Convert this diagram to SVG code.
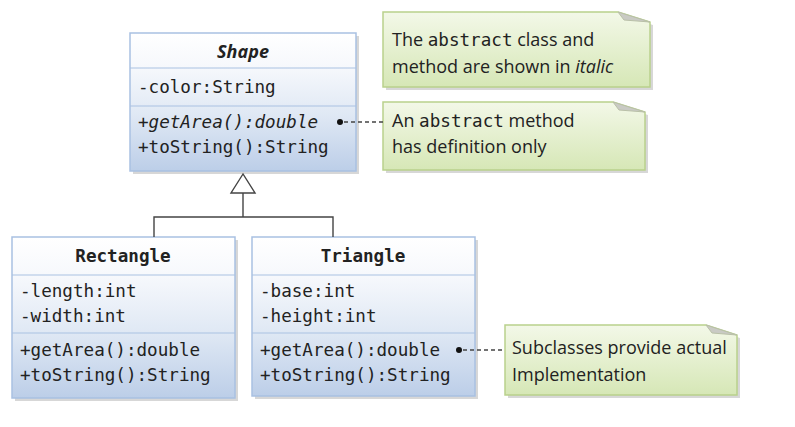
<svg xmlns="http://www.w3.org/2000/svg" width="795" height="427" viewBox="0 0 795 427">
<defs>
<linearGradient id="cls" x1="0" y1="0" x2="0" y2="1">
<stop offset="0" stop-color="#ffffff"/>
<stop offset="0.25" stop-color="#f6f8fc"/>
<stop offset="0.6" stop-color="#dfe8f4"/>
<stop offset="1" stop-color="#bccee8"/>
</linearGradient>
<linearGradient id="note" x1="0" y1="0" x2="0" y2="1">
<stop offset="0" stop-color="#f3f8e8"/>
<stop offset="1" stop-color="#d6e7b6"/>
</linearGradient>
<style>
.box{fill:url(#cls);stroke:#a9c1e2;stroke-width:1.5}
.sep{stroke:#a9c1e2;stroke-width:1.2}
.shadow{fill:#bdbdbd;opacity:0.6}
.nbox{fill:url(#note);stroke:#b9d18c;stroke-width:1.5}
.fold{fill:#c9cac4;stroke:#b9c0a8;stroke-width:1}
.mono{font-family:"DejaVu Sans Mono","Liberation Mono",monospace;font-size:17.6px;fill:#222}
.title{font-family:"DejaVu Sans Mono","Liberation Mono",monospace;font-size:17.6px;font-weight:bold;fill:#222}
.ntxt{font-family:"Open Sans","Liberation Sans",sans-serif;font-size:18px;fill:#222}
.nm{font-family:"DejaVu Sans Mono","Liberation Mono",monospace;font-size:17.6px}
.line{stroke:#444;stroke-width:1.4;fill:none}
.dash{stroke:#444;stroke-width:1.4;fill:none;stroke-dasharray:4,3}
</style>
</defs>

<g id="Shape">
<rect class="shadow" x="133" y="36" width="226" height="138"/>
<rect class="box" x="130" y="33" width="226" height="138"/>
<line class="sep" x1="130" y1="68" x2="356" y2="68"/>
<line class="sep" x1="130" y1="106" x2="356" y2="106"/>
<text x="243" y="58" text-anchor="middle" style="font-family:'Open Sans','Liberation Sans',sans-serif;font-size:18px;font-weight:bold;font-style:italic;fill:#222">Shape</text>
<text class="mono" x="138" y="93">-color:String</text>
<text class="mono" x="138" y="128" font-style="italic">+getArea():double</text>
<text class="mono" x="138" y="153">+toString():String</text>
</g>

<g id="Rectangle">
<rect class="shadow" x="15" y="240" width="223" height="161"/>
<rect class="box" x="12" y="237" width="223" height="161"/>
<line class="sep" x1="12" y1="275" x2="235" y2="275"/>
<line class="sep" x1="12" y1="333" x2="235" y2="333"/>
<text class="title" x="123" y="262" text-anchor="middle">Rectangle</text>
<text class="mono" x="20" y="297">-length:int</text>
<text class="mono" x="20" y="322">-width:int</text>
<text class="mono" x="20" y="356">+getArea():double</text>
<text class="mono" x="20" y="381">+toString():String</text>
</g>

<g id="Triangle">
<rect class="shadow" x="255" y="240" width="223" height="159"/>
<rect class="box" x="252" y="237" width="223" height="159"/>
<line class="sep" x1="252" y1="275" x2="475" y2="275"/>
<line class="sep" x1="252" y1="333" x2="475" y2="333"/>
<text class="title" x="363" y="262" text-anchor="middle">Triangle</text>
<text class="mono" x="260" y="297">-base:int</text>
<text class="mono" x="260" y="322">-height:int</text>
<text class="mono" x="260" y="356">+getArea():double</text>
<text class="mono" x="260" y="381">+toString():String</text>
</g>

<g id="note1">
<path class="shadow" d="M386,15 H621 L653,25 V90 H386 Z"/>
<path class="nbox" d="M383,12 H618 L650,22 V87 H383 Z"/>
<path class="fold" d="M618,12 L650,22 L624,20 Z"/>
<text class="ntxt" x="392" y="46">The <tspan class="nm">abstract</tspan> class and</text>
<text class="ntxt" x="392" y="73">method are shown in <tspan font-style="italic">italic</tspan></text>
</g>

<g id="note2">
<path class="shadow" d="M386,105 H616 L648,115 V173 H386 Z"/>
<path class="nbox" d="M383,102 H613 L645,112 V170 H383 Z"/>
<path class="fold" d="M613,102 L645,112 L619,110 Z"/>
<text class="ntxt" x="392" y="127">An <tspan class="nm">abstract</tspan> method</text>
<text class="ntxt" x="392" y="153">has definition only</text>
</g>

<g id="note3">
<path class="shadow" d="M508,328 H709 L740,338 V398 H508 Z"/>
<path class="nbox" d="M505,325 H706 L737,335 V395 H505 Z"/>
<path class="fold" d="M706,325 L737,335 L712,333 Z"/>
<text class="ntxt" x="512" y="354">Subclasses provide actual</text>
<text class="ntxt" x="512" y="381">Implementation</text>
</g>

<g id="connectors">
<polygon points="243,174 231,193 255,193" fill="#fff" stroke="#444" stroke-width="1.4"/>
<polyline class="line" points="243,193 243,217"/>
<polyline class="line" points="154,237 154,217 333,217 333,237"/>
<circle cx="340" cy="122" r="3" fill="#111"/>
<line class="dash" x1="344" y1="122" x2="383" y2="122"/>
<circle cx="459" cy="350" r="3" fill="#111"/>
<line class="dash" x1="463" y1="350" x2="505" y2="350"/>
</g>
</svg>
